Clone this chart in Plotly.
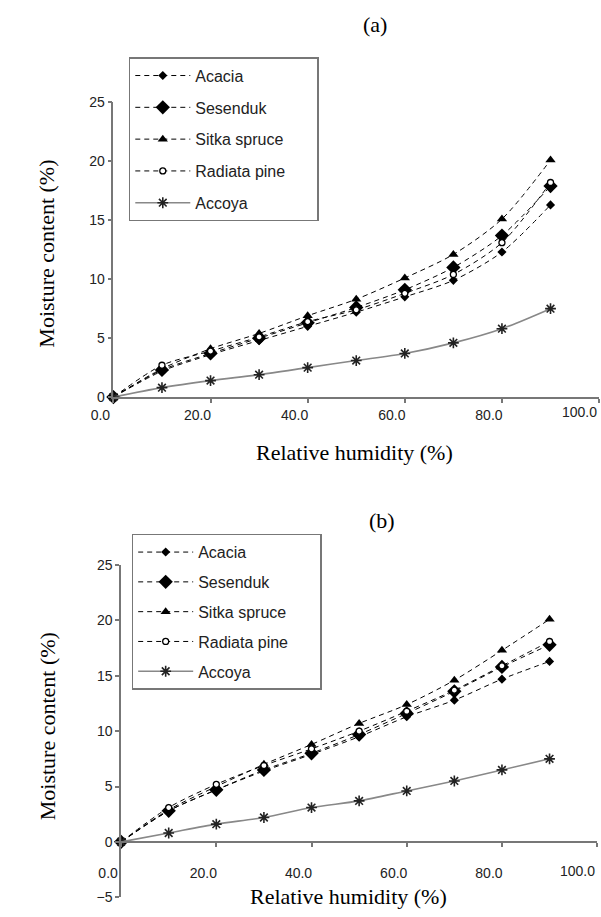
import plotly.graph_objects as go

W, H = 601, 917

# ---------------- data ----------------
rh = [0, 10, 20, 30, 40, 50, 60, 70, 80, 90]
names = ["Acacia", "Sesenduk", "Sitka spruce", "Radiata pine", "Accoya"]

# panel (a)
a_acacia = [0, 2.2, 3.6, 4.8, 6.0, 7.2, 8.5, 9.9, 12.3, 16.3]
a_sesenduk = [0, 2.3, 3.7, 5.0, 6.3, 7.6, 9.1, 11.0, 13.7, 17.9]
a_sitka = [0, 2.4, 4.1, 5.4, 6.9, 8.3, 10.1, 12.1, 15.1, 20.1]
a_radiata = [0, 2.7, 3.9, 5.1, 6.4, 7.4, 8.8, 10.4, 13.1, 18.2]
a_accoya = [0, 0.8, 1.4, 1.9, 2.5, 3.1, 3.7, 4.6, 5.8, 7.5]

# panel (b)
b_acacia = [0, 2.8, 4.7, 6.4, 7.9, 9.5, 11.3, 12.8, 14.7, 16.3]
b_sesenduk = [0, 2.8, 4.7, 6.5, 8.0, 9.7, 11.6, 13.6, 15.8, 17.8]
b_sitka = [0, 2.9, 5.0, 7.0, 8.8, 10.7, 12.4, 14.6, 17.3, 20.1]
b_radiata = [0, 3.1, 5.2, 6.9, 8.4, 10.0, 11.8, 13.7, 15.9, 18.1]
b_accoya = [0, 0.8, 1.6, 2.2, 3.1, 3.7, 4.6, 5.5, 6.5, 7.5]

x_ticks = [0, 20, 40, 60, 80, 100]
x_ticktext = ["0.0", "20.0", "40.0", "60.0", "80.0", ""]  # last label placed inside the page below
x_last_label = "100.0"
y_ticks_a = [0, 5, 10, 15, 20, 25]
y_ticks_b = [-5, 0, 5, 10, 15, 20, 25]

# ---------------- styles ----------------
SANS = "Liberation Sans, Arial, sans-serif"
SERIF = "Liberation Serif, Times New Roman, serif"
AXC = "#777777"
TXT = "#222222"

styles = [
    dict(symbol="diamond", size=7, line=dict(width=0), fill="black", dash="5px,4px", lc="black", lw=1),
    dict(symbol="diamond", size=11, line=dict(width=0), fill="black", dash="5px,4px", lc="black", lw=1),
    dict(symbol="triangle-up", size=9, line=dict(width=0), fill="black", dash="5px,4px", lc="black", lw=1),
    dict(symbol="circle", size=6, line=dict(width=1.3, color="black"), fill="white", dash="5px,4px", lc="black", lw=1),
    dict(symbol="asterisk-open", size=9, line=dict(width=1.6, color="#222222"), fill="#222222", dash="solid", lc="#888888", lw=1.6),
]

pad = "\u00a0" * 6
fig = go.Figure()

def add_panel(series, xa, ya, legend):
    for i, (nm, vals) in enumerate(zip(names, series)):
        s = styles[i]
        fig.add_trace(go.Scatter(
            x=rh, y=vals, xaxis=xa, yaxis=ya,
            name=nm + (pad if nm == "Radiata pine" else ""),
            legend=legend, legendgroup=legend + nm,
            mode="lines+markers", cliponaxis=False,
            line=dict(color=s["lc"], width=s["lw"], dash=s["dash"], shape="spline", smoothing=0.8),
            marker=dict(symbol=s["symbol"], size=s["size"], color=s["fill"], line=s["line"]),
        ))

add_panel([a_acacia, a_sesenduk, a_sitka, a_radiata, a_accoya], "x", "y", "legend")
add_panel([b_acacia, b_sesenduk, b_sitka, b_radiata, b_accoya], "x2", "y2", "legend2")

def px_x(p):
    return p / W

def px_y(p):
    return 1 - p / H

axis_common = dict(
    showline=True, linecolor=AXC, linewidth=1.5, ticks="outside", ticklen=4,
    tickcolor=AXC, tickwidth=1.5, showgrid=False, zeroline=False,
    tickfont=dict(family=SANS, size=14, color=TXT),
)

fig.update_layout(
    width=W, height=H, margin=dict(l=0, r=0, t=0, b=0),
    paper_bgcolor="white", plot_bgcolor="white",
    xaxis=dict(domain=[px_x(94), px_x(599)], range=[0, 100], tickvals=x_ticks,
               ticktext=x_ticktext, anchor="y", ticklabelshift=-13, **axis_common),
    yaxis=dict(domain=[px_y(396), px_y(96)], range=[0, 25], tickvals=y_ticks_a,
               anchor="x", **axis_common),
    xaxis2=dict(domain=[px_x(102), px_x(597)], range=[0, 100], tickvals=x_ticks,
                ticktext=x_ticktext, anchor="free", position=px_y(849),
                ticklabelshift=-13, ticklabelstandoff=14, **axis_common),
    yaxis2=dict(domain=[px_y(905), px_y(567)], range=[-5, 25], tickvals=y_ticks_b,
                anchor="x2", **axis_common),
    legend=dict(x=px_x(110), y=px_y(50), xanchor="left", yanchor="top",
                bgcolor="white", bordercolor=AXC, borderwidth=1.5,
                font=dict(family=SANS, size=16, color=TXT), itemwidth=55,
                tracegroupgap=8),
    legend2=dict(x=px_x(113), y=px_y(535), xanchor="left", yanchor="top",
                 bgcolor="white", bordercolor=AXC, borderwidth=1.5,
                 font=dict(family=SANS, size=16, color=TXT), itemwidth=55,
                 tracegroupgap=6),
)

# last x tick label, right-aligned at its tick so it stays inside the page
fig.add_annotation(xref="x", yref="y", x=x_ticks[-1], y=0, text=x_last_label,
                   showarrow=False, xanchor="right", yanchor="top", yshift=-5,
                   font=dict(family=SANS, size=14, color=TXT))
fig.add_annotation(xref="x2", yref="y2", x=x_ticks[-1], y=0, text=x_last_label,
                   showarrow=False, xanchor="right", yanchor="top", yshift=-19,
                   font=dict(family=SANS, size=14, color=TXT))

ann_font = dict(family=SERIF, size=22, color="black")
anns = [
    dict(text="(a)", x=px_x(366), y=px_y(17)),
    dict(text="(b)", x=px_x(373), y=px_y(522)),
    dict(text="Relative humidity (%)", x=px_x(345), y=px_y(452)),
    dict(text="Relative humidity (%)", x=px_x(338), y=px_y(904)),
    dict(text="Moisture content (%)", x=px_x(25), y=px_y(250), textangle=-90),
    dict(text="Moisture content (%)", x=px_x(25), y=px_y(731), textangle=-90),
]
for a in anns:
    fig.add_annotation(xref="paper", yref="paper", showarrow=False,
                       xanchor="center", yanchor="middle", font=ann_font, **a)

fig.write_html(
    "out.html",
    config={"displayModeBar": False},
    post_script="document.body.style.margin='0';document.body.style.overflow='hidden';",
)
